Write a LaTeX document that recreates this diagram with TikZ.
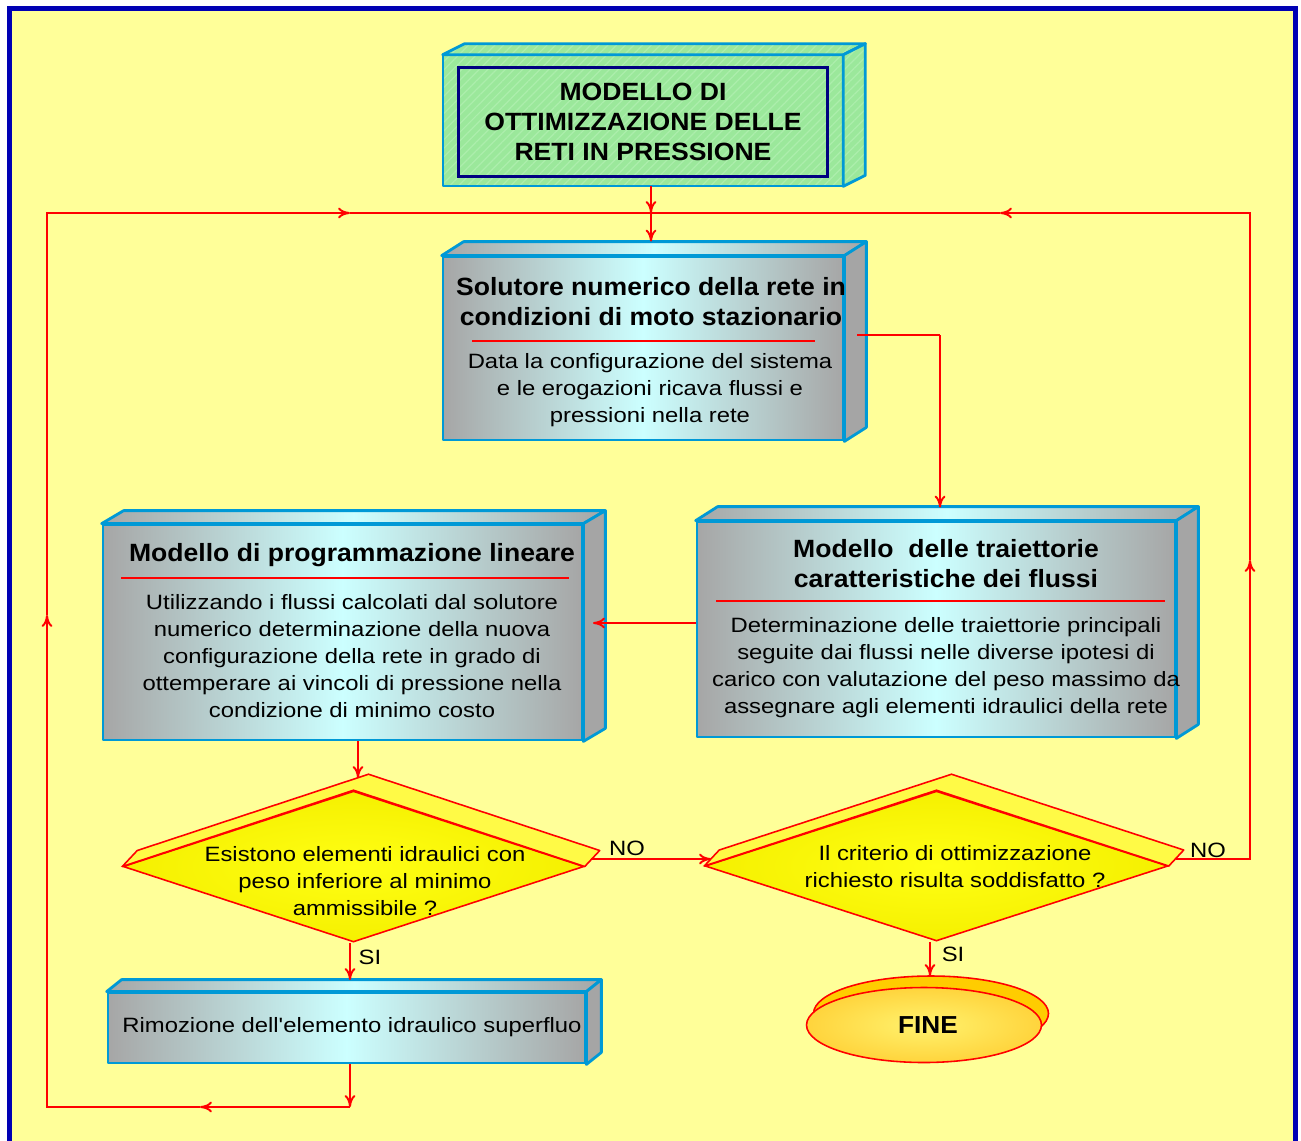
\documentclass[tikz,border=0pt]{standalone}
\usepackage{fontspec}
\setmainfont{Liberation Sans}
\newfontfamily\bodyf{Liberation Sans}[FakeStretch=1.15]
\newfontfamily\titlef{Liberation Sans}[FakeStretch=1.065]
\usetikzlibrary{arrows.meta,calc,shapes.geometric,patterns.meta}
\definecolor{bgyellow}{RGB}{255,255,153}
\definecolor{framebl}{RGB}{0,0,180}
\definecolor{boxblue}{RGB}{0,153,214}
\definecolor{boxgray}{RGB}{166,166,166}
\definecolor{boxcyan}{RGB}{204,255,255}
\definecolor{sidegray}{RGB}{165,165,165}
\definecolor{lgreen}{RGB}{155,232,155}
\definecolor{hatchg}{RGB}{172,238,172}
\definecolor{navyb}{RGB}{0,0,128}
\definecolor{dyellow}{RGB}{255,255,20}
\definecolor{dyellowo}{RGB}{245,240,0}
\definecolor{stripy}{RGB}{255,250,70}
\definecolor{fineback}{RGB}{255,204,0}
\definecolor{finein}{RGB}{255,242,110}
\definecolor{fineout}{RGB}{255,212,60}
\begin{document}
\begin{tikzpicture}[x=0.02cm,y=-0.02cm,
  >={To[length=2.4mm,width=2.2mm]},
  conn/.style={draw=red, line width=1.1pt},
  sepline/.style={draw=red, line width=1.1pt},
  frontbox/.style={draw=boxblue, line width=1.6pt, line join=round,
     left color=boxgray, right color=boxgray, middle color=boxcyan, inner sep=0pt},
  topface/.style={draw=boxblue, line width=1.6pt, line join=round,
     left color=boxgray, right color=boxgray, middle color=boxcyan},
  sideface/.style={draw=boxblue, line width=1.6pt, line join=round, fill=sidegray},
  greenface/.style={fill=lgreen, inner sep=0pt,
     postaction={pattern={Lines[angle=45,distance=3.5pt,line width=0.7pt]}, pattern color=hatchg},
     postaction={draw=boxblue, line width=1.6pt, line join=round}},
  ttl/.style={align=center, inner sep=0pt, font=\titlef\bfseries\fontsize{14.2}{17.1}\selectfont},
  bdy/.style={align=center, inner sep=0pt, font=\bodyf\fontsize{11.8}{15.4}\selectfont},
  lbl/.style={inner sep=0pt, font=\bodyf\fontsize{11.8}{14}\selectfont},
  diam/.style={diamond, draw=red, line width=0.9pt, inner sep=0pt,
     inner color=dyellow, outer color=dyellowo},
  strip/.style={draw=red, line width=0.9pt, line join=round, fill=stripy}
]
\useasboundingbox (0,0) rectangle (1301,1140);
\clip (0,0) rectangle (1301,1140);
\fill[white] (0,0) rectangle (1301,1140);
\fill[bgyellow] (9.5,8.5) rectangle (1295.5,1170);
\draw[framebl, line width=0.1cm] (9.5,8.5) rectangle (1295.5,1170);

% ---------- top box ----------
\node[greenface, minimum width=8cm, minimum height=2.62cm] (topbox) at (643,120.5) {};
\path[greenface] (topbox.north west) -- ++(22,-11) -- ($(topbox.north east)+(22,-11)$) -- (topbox.north east) -- cycle;
\path[greenface] (topbox.north east) -- ++(22,-11) -- ($(topbox.south east)+(22,-11)$) -- (topbox.south east) -- cycle;
\node[draw=navyb, line width=1.7pt, minimum width=7.4cm, minimum height=2.18cm, align=center,
      font=\titlef\bfseries\fontsize{14.2}{17.3}\selectfont] (title) at (643,122)
      {MODELLO DI\\OTTIMIZZAZIONE DELLE\\RETI IN PRESSIONE};

% ---------- solutore ----------
\node[frontbox, minimum width=8cm, minimum height=3.66cm] (sol) at (643,348.5) {};
\path[topface] (sol.north west) -- ++(22,-14) -- ($(sol.north east)+(22,-14)$) -- (sol.north east) -- cycle;
\path[sideface] (sol.north east) -- ++(22,-14) -- ($(sol.south east)+(22,-14)$) -- (sol.south east) -- cycle;
\node[ttl] (soltitle) at (651,302) {Solutore numerico della rete in\\condizioni di moto stazionario};
\draw[sepline] (472,341) -- (815,341);
\node[bdy] (solbody) at (650,390) {Data la configurazione del sistema\\e le erogazioni ricava flussi e\\pressioni nella rete};

% ---------- left box ----------
\node[frontbox, minimum width=9.58cm, minimum height=4.3cm] (lb) at (342.5,632.5) {};
\path[topface] (lb.north west) -- ++(22,-13) -- ($(lb.north east)+(22,-13)$) -- (lb.north east) -- cycle;
\path[sideface] (lb.north east) -- ++(22,-13) -- ($(lb.south east)+(22,-13)$) -- (lb.south east) -- cycle;
\node[ttl] (lbtitle) at (352,555) {Modello di programmazione lineare};
\draw[sepline] (121,578) -- (569,578);
\node[bdy] (lbbody) at (352,656) {Utilizzando i flussi calcolati dal solutore\\numerico determinazione della nuova\\configurazione della rete in grado di\\ottemperare ai vincoli di pressione nella\\condizione di minimo costo};

% ---------- right box ----------
\node[frontbox, minimum width=9.56cm, minimum height=4.3cm] (rb) at (936,629.5) {};
\path[topface] (rb.north west) -- ++(22,-14) -- ($(rb.north east)+(22,-14)$) -- (rb.north east) -- cycle;
\path[sideface] (rb.north east) -- ++(22,-14) -- ($(rb.south east)+(22,-14)$) -- (rb.south east) -- cycle;
\node[ttl] (rbtitle) at (946,564) {Modello\ \ delle traiettorie\\caratteristiche dei flussi};
\draw[sepline] (716,601) -- (1165,601);
\node[bdy] (rbbody) at (946,668) {Determinazione delle traiettorie principali\\seguite dai flussi nelle diverse ipotesi di\\carico con valutazione del peso massimo da\\assegnare agli elementi idraulici della rete};

% ---------- diamonds ----------
\node[diam, minimum width=9.22cm, minimum height=3.02cm] (d1) at (353.5,866.5) {};
\path[strip] (d1.west) -- ++(15,-16) -- ($(d1.north)+(15,-16)$) -- ($(d1.east)+(15,-16)$) -- (d1.east) -- (d1.north) -- cycle;
\node[bdy] (d1text) at (365,881) {Esistono elementi idraulici con\\peso inferiore al minimo\\ammissibile ?};

\node[diam, minimum width=9.26cm, minimum height=3.0cm] (d2) at (936.5,866) {};
\path[strip] (d2.west) -- ++(15,-16) -- ($(d2.north)+(15,-16)$) -- ($(d2.east)+(15,-16)$) -- (d2.east) -- (d2.north) -- cycle;
\node[bdy] (d2text) at (955,866.5) {Il criterio di ottimizzazione\\richiesto risulta soddisfatto ?};

% ---------- rimozione ----------
\node[frontbox, minimum width=9.54cm, minimum height=1.4cm] (rem) at (346.5,1028) {};
\path[topface] (rem.north west) -- ++(15,-12) -- ($(rem.north east)+(15,-12)$) -- (rem.north east) -- cycle;
\path[sideface] (rem.north east) -- ++(15,-12) -- ($(rem.south east)+(15,-12)$) -- (rem.south east) -- cycle;
\node[bdy] (remtext) at (352,1027) {Rimozione dell'elemento idraulico superfluo};

% ---------- FINE ----------
\draw[red, line width=0.9pt, fill=fineback] (931,1013.5) ellipse [x radius=2.35cm, y radius=0.75cm];
\node[ellipse, draw=red, line width=0.9pt, minimum width=4.7cm, minimum height=1.5cm, inner sep=0pt,
      inner color=finein, outer color=fineout,
      font=\titlef\bfseries\fontsize{14}{16}\selectfont] (fine) at (924,1025) {\hspace*{0.16cm}FINE};

% ---------- coordinates ----------
\coordinate (jtop) at (651,213);
\coordinate (tl) at (47,213);
\coordinate (tr) at (1250,213);
\coordinate (bl) at (47,1107);
\coordinate (br) at (350,1107);
\coordinate (midL) at (200,1107);
\coordinate (upL) at (47,615);
\coordinate (rtL) at (350,213);
\coordinate (upR) at (1250,560);
\coordinate (ltR) at (1000,213);
\coordinate (noR) at (1250,859);
\coordinate (noS) at (1176,859);
\coordinate (s1) at (857,335);
\coordinate (s2) at (940,335);
\coordinate (h1) at (593,623);
\coordinate (v1) at (358,778);
\coordinate (n1s) at (591,859);
\coordinate (n1e) at (711,859);
\coordinate (si1) at (350,980);
\coordinate (si2) at (930,976);

% ---------- connectors ----------
\draw[conn,->] (topbox.south -| jtop) -- (jtop);
\draw[conn,->] (jtop) -- ($(jtop |- sol.north)+(0,-14)$);
\draw[conn] (s1) -- (s2);
\draw[conn,->] (s2) -- ($(s2 |- rb.north)+(0,-13)$);
\draw[conn,->] (rb.west |- h1) -- (h1);
\draw[conn,->] (lb.south -| v1) -- (v1);
\draw[conn,->] (n1s) -- (n1e);
\draw[conn,->] (d1.south -| si1) -- (si1);
\draw[conn,->] (d2.south -| si2) -- (si2);
% right loop
\draw[conn,->] (noS) -- (noR) -- (upR);
\draw[conn,->] (upR) -- (tr) -- (ltR);
\draw[conn] (ltR) -- (jtop);
% left loop
\draw[conn,->] (rem.south -| br) -- (br);
\draw[conn,->] (br) -- (midL);
\draw[conn,->] (midL) -- (bl) -- (upL);
\draw[conn,->] (upL) -- (tl) -- (rtL);
\draw[conn] (rtL) -- (jtop);

% ---------- labels ----------
\node[lbl] (no1) at (627,848) {NO};
\node[lbl] (no2) at (1208,850) {NO};
\node[lbl] (si1l) at (370,957) {SI};
\node[lbl] (si2l) at (953,954) {SI};
\end{tikzpicture}
\end{document}
